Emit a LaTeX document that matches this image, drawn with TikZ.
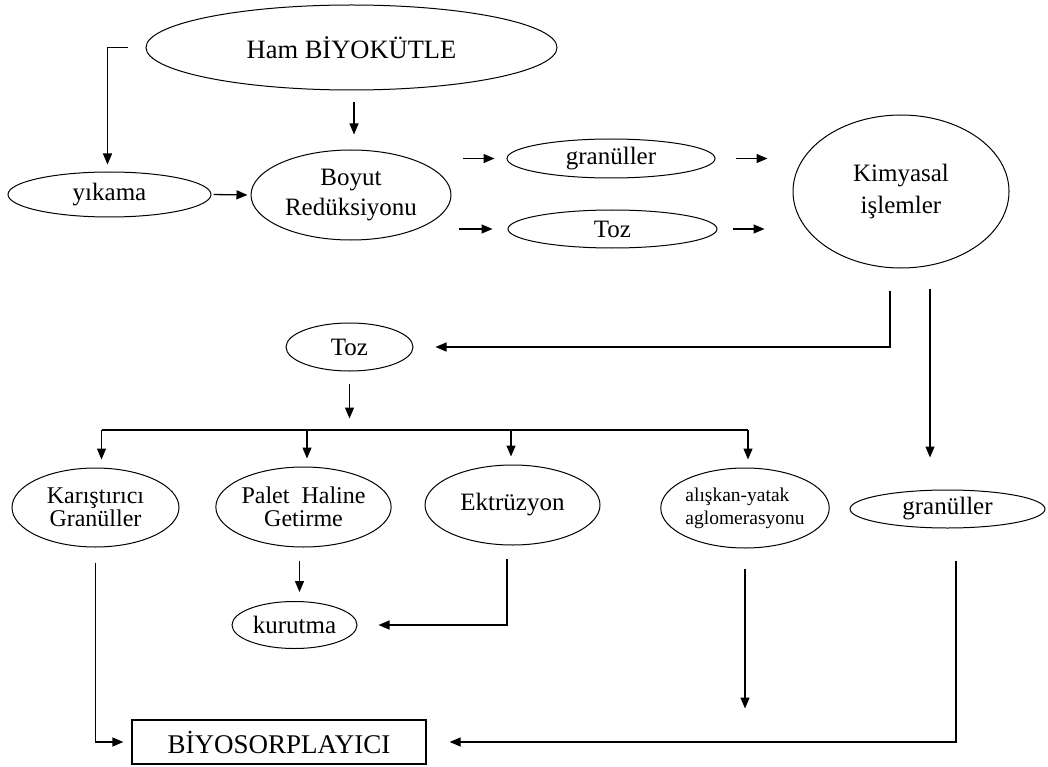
\documentclass[tikz,border=0pt]{standalone}
\usepackage{fontspec}
\setmainfont{Liberation Serif}
\usetikzlibrary{shapes.geometric,arrows.meta}
\tikzstyle{blob}=[ellipse,draw,line width=1pt,inner sep=0pt,align=center,font=\fontsize{25}{30}\selectfont]
\tikzstyle{flow}=[->,>={Triangle[length=11pt,width=9pt]},line width=1.3pt]

\begin{document}
\begin{tikzpicture}[x=1pt,y=-1pt]
\useasboundingbox (0,0) rectangle (1048,767);
\node[blob,minimum width=411,minimum height=85,font=\fontsize{26.5}{30}\selectfont] at (351.5,47.5) (ham) {Ham BİYOKÜTLE};
\node[blob,minimum width=203,minimum height=45] at (109.5,194.5) (yikama) {yıkama};
\node[blob,minimum width=200,minimum height=90] at (351,195) (boyut) {Boyut\\Redüksiyonu};
\node[blob,minimum width=208,minimum height=39] at (611,158.5) (gran1) {granüller};
\node[blob,minimum width=209,minimum height=38] at (612.5,229) (toz1) {Toz};
\node[blob,minimum width=216,minimum height=153,font=\fontsize{25}{32}\selectfont] at (901,191.5) (kim) {Kimyasal\\işlemler};
\node[blob,minimum width=127,minimum height=48] at (349.5,347) (toz2) {Toz};
\node[blob,minimum width=167,minimum height=79,font=\fontsize{24}{23}\selectfont] at (95.5,507.5) (kar) {Karıştırıcı\\Granüller};
\node[blob,minimum width=167,minimum height=80,font=\fontsize{24}{23}\selectfont] at (303.5,507) (palet) {Palet\ \ Haline\\Getirme};
\node[blob,minimum width=175,minimum height=80] at (512.5,505) (ekt) {Ektrüzyon};
\node[blob,minimum width=166,minimum height=80,align=left,font=\fontsize{19.5}{23}\selectfont] at (745,508) (alis) {alışkan-yatak\\aglomerasyonu};
\node[blob,minimum width=195,minimum height=38] at (947.5,509) (gran2) {granüller};
\node[blob,minimum width=125,minimum height=47] at (294.5,625) (kurutma) {kurutma};
\node[draw,line width=1.3pt,minimum width=294,minimum height=44,inner sep=0pt,font=\fontsize{27}{30}\selectfont] at (279,742) (bio) {BİYOSORPLAYICI};
\coordinate (bar) at (0,430);

\draw[flow] ([xshift=-18pt]ham.west) -| ([shift={(-2pt,7pt)}]yikama.north);
\draw[flow] ([shift={(2.5pt,-12pt)}]ham.south) -- ([shift={(3pt,15pt)}]boyut.north);
\draw[flow,shorten <=2pt,shorten >=3pt] (yikama.east) -- (boyut.west);
\draw[flow,shorten <=11pt,shorten >=12pt] (boyut.east |- gran1.west) -- (gran1.west);
\draw[flow,shorten <=7pt,shorten >=15pt] (boyut.east |- toz1.west) -- (toz1.west);
\draw[flow,shorten <=20pt,shorten >=25pt] (gran1.east) -- (gran1.east -| kim.west);
\draw[flow,shorten <=15pt,shorten >=28pt] (toz1.east) -- (toz1.east -| kim.west);
\draw[flow,shorten >=22pt] ([shift={(-11pt,-22pt)}]kim.south) |- (toz2.east);
\draw[flow,shorten >=32pt] ([shift={(29pt,-20pt)}]kim.south) coordinate (k2) -- (k2 |- gran2.north);
\draw[flow] ([yshift=-12pt]toz2.south) -- ++(0,35);
\draw[line width=1.3pt] ([xshift=6pt]kar.north |- bar) -- ([xshift=3pt]alis.north |- bar);
\foreach \n/\dx in {kar/6,palet/3.5,ekt/-1.5,alis/3}
  \draw[flow] ([xshift=\dx pt]\n.north |- bar) -- ([shift={(\dx pt,8pt)}]\n.north);
\draw[flow,shorten >=8pt] ([yshift=-15pt]kar.south) |- (bio.west);
\draw[flow,shorten <=13pt,shorten >=9pt] ([xshift=-4pt]palet.south) -- ([xshift=-4pt]palet.south |- kurutma.north);
\draw[flow,shorten >=21pt] ([shift={(-5.5pt,-13pt)}]ekt.south) |- (kurutma.east);
\draw[flow] ([yshift=-20pt]alis.south) -- ++(0,140);
\draw[flow,shorten >=23pt] ([shift={(8.5pt,-32pt)}]gran2.south) |- (bio.east);
\end{tikzpicture}
\end{document}
